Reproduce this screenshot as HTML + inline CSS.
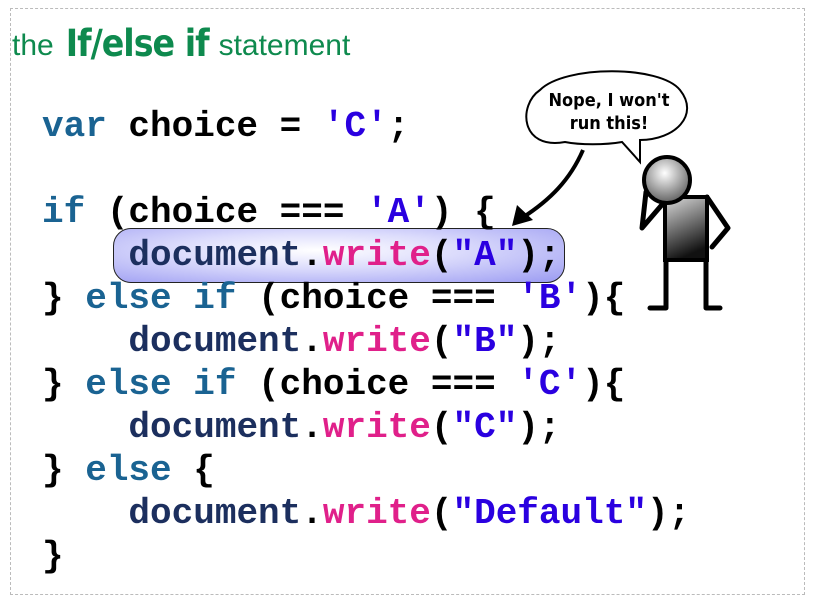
<!DOCTYPE html>
<html><head><meta charset="utf-8"><style>
body{margin:0;width:816px;height:608px;background:#fff;position:relative;overflow:hidden}
.frame{position:absolute;left:10px;top:8px;width:795px;height:587px;border:1px dashed #bbb;box-sizing:border-box}
.title{position:absolute;left:12px;top:22px;color:#0e8a4e;font-family:"Liberation Sans",sans-serif;font-size:30px;white-space:nowrap}
.title b{font-family:"DejaVu Sans Condensed","Liberation Sans",sans-serif;font-size:37px;font-weight:bold;letter-spacing:-1px;vertical-align:-1px;margin:0 10px 0 12px}
.code{position:absolute;left:42px;top:105px;font-family:"Liberation Mono",monospace;font-weight:bold;font-size:36px;line-height:43px;white-space:pre;color:#000}
.k{color:#1a6392}.s{color:#2a00e0}.w{color:#e0208a}.d{color:#1c2f5e}
.hl{position:absolute;left:113px;top:228px;width:452px;height:55px;border:1.5px solid #222;border-radius:18px;box-sizing:border-box;background:radial-gradient(ellipse at 45% 40%,#ffffff 0%,#dcdcfc 40%,#9a9af2 100%)}
svg{position:absolute;left:0;top:0}
</style></head><body>
<div class="frame"></div>
<div class="title">the<b>If/else if</b>statement</div>
<div class="hl"></div>
<div class="code"><span class="k">var</span> choice = <span class="s">'C'</span>;

<span class="k">if</span> (choice === <span class="s">'A'</span>) {
    <span class="d">document</span>.<span class="w">write</span>(<span class="s">"A"</span>);
} <span class="k">else if</span> (choice === <span class="s">'B'</span>){
    <span class="d">document</span>.<span class="w">write</span>(<span class="s">"B"</span>);
} <span class="k">else if</span> (choice === <span class="s">'C'</span>){
    <span class="d">document</span>.<span class="w">write</span>(<span class="s">"C"</span>);
} <span class="k">else</span> {
    <span class="d">document</span>.<span class="w">write</span>(<span class="s">"Default"</span>);
}</div>
<svg width="816" height="608">
<defs>
<radialGradient id="hg" cx="0.45" cy="0.35" r="0.7"><stop offset="0" stop-color="#fff"/><stop offset="1" stop-color="#555"/></radialGradient>
<linearGradient id="bg" x1="0" y1="0" x2="0.3" y2="1"><stop offset="0" stop-color="#ddd"/><stop offset="1" stop-color="#111"/></linearGradient>
</defs>
<path d="M565,142 C520,150 518,105 540,90 C565,65 660,65 680,90 C700,115 675,140 640,140 L640,162 L622,142 C605,145 580,145 565,142 Z" fill="#fff" stroke="#000" stroke-width="2"/>
<text x="609" y="106" text-anchor="middle" font-family="'DejaVu Sans Condensed',sans-serif" font-weight="bold" font-size="18">Nope, I won't</text>
<text x="609" y="129" text-anchor="middle" font-family="'DejaVu Sans Condensed',sans-serif" font-weight="bold" font-size="18">run this!</text>
<path d="M583,150 C570,180 550,200 522,218" fill="none" stroke="#000" stroke-width="4"/>
<polygon points="512,226 517,205 533,220" fill="#000"/>
<g stroke="#000" stroke-width="5" fill="none" stroke-linecap="round" stroke-linejoin="round">
<path d="M666,260 L666,308 L650,308"/><path d="M706,260 L706,308 L720,308"/>
<path d="M666,200 L642,228 L646,192"/><path d="M707,197 L728,228 L712,247"/>
</g>
<rect x="665" y="197" width="42" height="63" fill="url(#bg)" stroke="#000" stroke-width="4"/>
<circle cx="667" cy="180" r="23" fill="url(#hg)" stroke="#000" stroke-width="4"/>
</svg>
</body></html>
